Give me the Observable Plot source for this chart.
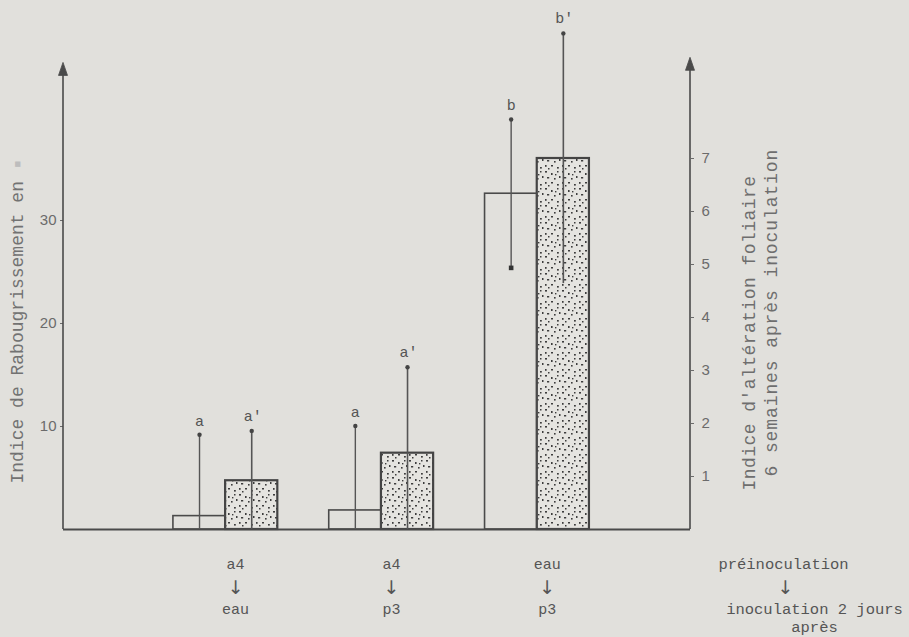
<!DOCTYPE html>
<html><head><meta charset="utf-8">
<script src="https://cdn.jsdelivr.net/npm/d3@7"></script>
<script src="https://cdn.jsdelivr.net/npm/@observablehq/plot@0.6"></script>
<style>
html,body{margin:0;padding:0;background:#e1e0dc;}
#chart svg{display:block;background:#e1e0dc;}
</style></head><body><div id="chart"></div>
<script>
// ---- data ----
const groups = ["a4 → eau", "a4 → p3", "eau → p3"];
const preLabels = ["a4", "a4", "eau"];
const postLabels = ["eau", "p3", "p3"];
const stuntMean = [1.3, 1.85, 32.6];      // Indice de Rabougrissement (left axis)
const stuntSD = [7.9, 8.2, 7.2];
const stuntLetters = ["a", "a", "b"];
const leafMean = [0.92, 1.44, 7.0];       // Indice d'altération foliaire (right axis)
const leafSD = [0.94, 1.62, 2.36];
const leafLetters = ["a'", "a'", "b'"];
const leftTicks = [10, 20, 30];
const rightTicks = [1, 2, 3, 4, 5, 6, 7];
const leftTitle = "Indice de Rabougrissement en";
const rightTitle1 = "Indice d'altération foliaire";
const rightTitle2 = "6 semaines après inoculation";
const legendLines = ["préinoculation", "↓", "inoculation 2 jours", "après"];

// ---- layout ----
const W = 909, H = 637, mL = 63, mR = 219, mT = 20, mB = 108;
const pxPerLeft = 10.3, pxPerRight = 53;
const K = pxPerRight / pxPerLeft;           // right unit expressed in left units
const yMax = (H - mT - mB) / pxPerLeft;
const leftAxisTop = 45.3, rightAxisTop = 8.9;
const pI = 0.33, pO = 0.677, al = 0.521;
const bw = d3.scaleBand().domain(groups).range([mL, W - mR]).paddingInner(pI).paddingOuter(pO).align(al).bandwidth();

const stunt = groups.map((g, i) => ({group: g, mean: stuntMean[i], lo: Math.max(0, stuntMean[i] - stuntSD[i]), hi: stuntMean[i] + stuntSD[i], letter: stuntLetters[i]}));
const leaf = groups.map((g, i) => ({group: g, mean: leafMean[i] * K, lo: Math.max(0, leafMean[i] - leafSD[i]) * K, hi: (leafMean[i] + leafSD[i]) * K, letter: leafLetters[i]}));

const mono = "Liberation Mono, DejaVu Sans Mono, monospace";
const sans = "Liberation Sans, DejaVu Sans, sans-serif";
const ink = "#4a4a4a";
const txt = {textAnchor: "middle", lineAnchor: "middle"};

const chart = Plot.plot({
  width: W, height: H,
  marginLeft: mL, marginRight: mR, marginTop: mT, marginBottom: mB,
  style: {background: "#e1e0dc", overflow: "visible"},
  x: {type: "band", domain: groups, paddingInner: pI, paddingOuter: pO, align: al, round: false, axis: null},
  y: {domain: [0, yMax], nice: false},
  marks: [
    Plot.rectY(leaf, {x: "group", y: "mean", insetLeft: bw / 2, fill: "url(#stipple)", stroke: "#444", strokeWidth: 2.2}),
    Plot.rectY(stunt, {x: "group", y: "mean", insetRight: bw / 2, fill: "none", stroke: ink, strokeWidth: 1.6}),
    Plot.ruleY([0], {stroke: ink, strokeWidth: 1.8}),
    Plot.ruleX(stunt, {x: "group", y1: "lo", y2: "hi", dx: -bw / 4, stroke: "#555", strokeWidth: 1.4}),
    Plot.ruleX(leaf, {x: "group", y1: "lo", y2: "hi", dx: bw / 4, stroke: "#555", strokeWidth: 1.6}),
    Plot.dot(stunt, {x: "group", y: "hi", dx: -bw / 4, r: 2.2, fill: "#444"}),
    Plot.dot(leaf, {x: "group", y: "hi", dx: bw / 4, r: 2.2, fill: "#444"}),
    Plot.dot(stunt.filter(d => d.lo > 0), {x: "group", y: "lo", dx: -bw / 4, symbol: "square", r: 2.6, fill: "#333"}),
    Plot.text(stunt, {x: "group", y: "hi", text: "letter", dx: -bw / 4, dy: -14, fontFamily: mono, fontSize: 15, fill: "#555"}),
    Plot.text(leaf, {x: "group", y: "hi", text: "letter", dx: bw / 4 + 1, dy: -15, fontFamily: mono, fontSize: 15, fill: "#555"}),
    Plot.axisY(leftTicks, {anchor: "left", label: null, tickSize: 3, tickPadding: 4, fontSize: 15, fontFamily: sans, color: "#6b6b6b"}),
    Plot.axisY(rightTicks.map(v => v * K), {anchor: "right", label: null, tickSize: 3, tickPadding: 8, tickFormat: d => String(Math.round(d / K)), fontSize: 15, fontFamily: sans, color: "#6b6b6b"}),
    // titles
    Plot.text([leftTitle], {text: d => d, frameAnchor: "bottom-left", rotate: -90, textAnchor: "start", lineAnchor: "middle", dx: -46, dy: -46, fontFamily: mono, fontSize: 18, fill: "#727272"}),
    Plot.text(["■"], {text: d => d, frameAnchor: "bottom-left", rotate: -90, textAnchor: "start", lineAnchor: "middle", dx: -46, dy: -46 - 29 * 10.9, fontFamily: sans, fontSize: 11, fill: "#bdbdbd"}),
    Plot.text([rightTitle1], {text: d => d, frameAnchor: "bottom-right", rotate: -90, textAnchor: "start", lineAnchor: "middle", dx: 59, dy: -39, fontFamily: mono, fontSize: 18, fill: "#6e6e6e"}),
    Plot.text([rightTitle2], {text: d => d, frameAnchor: "bottom-right", rotate: -90, textAnchor: "start", lineAnchor: "middle", dx: 81, dy: -53, fontFamily: mono, fontSize: 18, fill: "#6e6e6e"}),
    // category labels
    Plot.text(groups, {...txt, x: d => d, text: (d, i) => preLabels[i], frameAnchor: "bottom", dx: 10, dy: 35, fontFamily: mono, fontSize: 15, fill: "#555"}),
    Plot.text(groups, {...txt, x: d => d, text: () => "↓", frameAnchor: "bottom", dx: 10, dy: 58, fontFamily: "DejaVu Sans, sans-serif", fontSize: 19, fill: "#555"}),
    Plot.text(groups, {...txt, x: d => d, text: (d, i) => postLabels[i], frameAnchor: "bottom", dx: 10, dy: 80, fontFamily: mono, fontSize: 15, fill: "#555"}),
    Plot.text([legendLines[0]], {...txt, text: d => d, frameAnchor: "bottom-right", dx: 93, dy: 35, fontFamily: mono, fontSize: 15.5, fill: "#555"}),
    Plot.text([legendLines[1]], {...txt, text: d => d, frameAnchor: "bottom-right", dx: 95, dy: 58, fontFamily: "DejaVu Sans, sans-serif", fontSize: 19, fill: "#555"}),
    Plot.text([legendLines[2]], {...txt, text: d => d, frameAnchor: "bottom-right", dx: 124, dy: 80, fontFamily: mono, fontSize: 15.5, fill: "#555"}),
    Plot.text([legendLines[3]], {...txt, text: d => d, frameAnchor: "bottom-right", dx: 124, dy: 98, fontFamily: mono, fontSize: 15.5, fill: "#555"})
  ]
});

const svg = d3.select(chart);
// letter spacing for typewritten titles
const spacing = {[rightTitle1]: 0.45, [rightTitle2]: 0.9};
svg.selectAll("text").each(function () {
  const s = spacing[this.textContent];
  if (s !== undefined) this.setAttribute("letter-spacing", s);
});

// stipple pattern
const pat = svg.insert("defs", ":first-child").append("pattern")
  .attr("id", "stipple").attr("patternUnits", "userSpaceOnUse").attr("width", 17).attr("height", 17);
pat.append("rect").attr("width", 17).attr("height", 17).attr("fill", "#e5e4e0");
[[1,1,2,1.6],[7,3,1.6,2],[13,1,1.5,1.5],[3,7,2.2,1.5],[10,8,1.6,1.6],[15,6,1.5,2],[1,12,1.6,1.8],[7,12,2,1.5],[13,14,1.8,1.6],[4,15,1.5,1.5],[11,4,1.4,1.4]].forEach(([x, y, w, h]) =>
  pat.append("rect").attr("x", x).attr("y", y).attr("width", w).attr("height", h).attr("fill", "#3d3d3d"));

// axis lines with arrowheads
const y = chart.scale("y");
const g = svg.append("g").attr("stroke", ink).attr("fill", ink);
function axisLine(x, top) {
  const yt = y.apply(top), y0 = y.apply(0);
  g.append("line").attr("x1", x).attr("x2", x).attr("y1", y0).attr("y2", yt + 6).attr("stroke-width", 1.6);
  g.append("path").attr("d", `M${x},${yt}L${x - 4.5},${yt + 13}L${x + 4.5},${yt + 13}Z`).attr("stroke-width", 0.8);
}
axisLine(mL, leftAxisTop);
axisLine(W - mR, rightAxisTop * K);

document.getElementById("chart").appendChild(chart);
</script></body></html>
